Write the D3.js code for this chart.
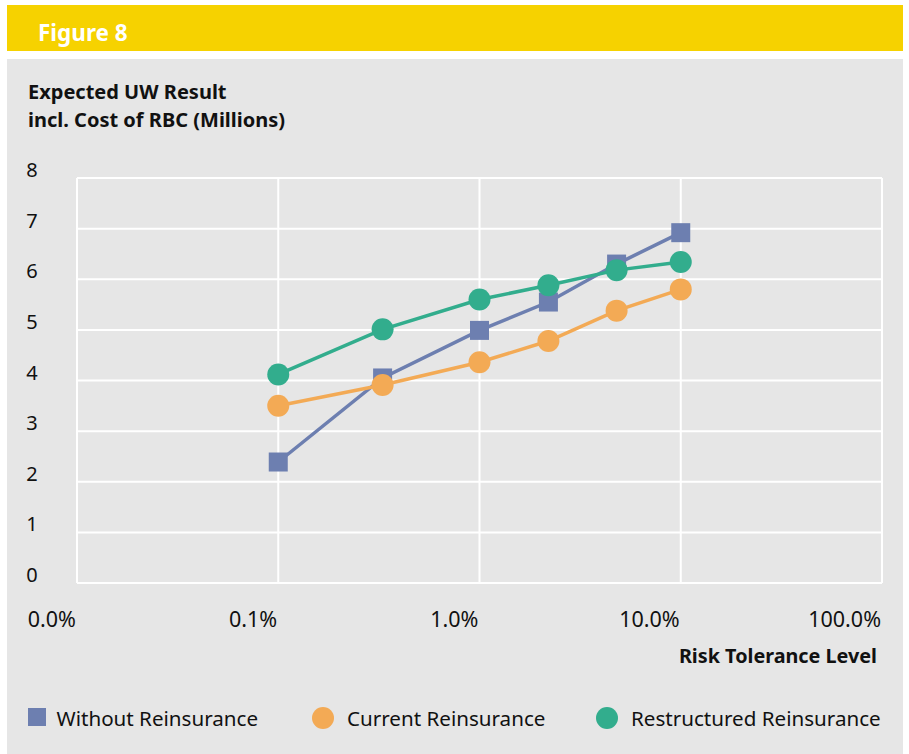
<!DOCTYPE html>
<html><head><meta charset="utf-8">
<script src="https://cdn.jsdelivr.net/npm/d3@7/dist/d3.min.js"></script>
<style>body{margin:0;background:#fff}svg{display:block}</style>
</head><body><svg id="c" width="909" height="754"></svg>
<script>
// ---- data ----
const xTickValues = [0.0001, 0.001, 0.01, 0.1, 1];
const xTickLabels = ["0.0%", "0.1%", "1.0%", "10.0%", "100.0%"];
const yTickValues = [0, 1, 2, 3, 4, 5, 6, 7, 8];
const riskLevels = [0.001, 0.0033, 0.01, 0.022, 0.048, 0.10];
const withoutReinsurance = [2.39, 4.05, 4.99, 5.55, 6.30, 6.92];
const currentReinsurance = [3.50, 3.91, 4.36, 4.78, 5.38, 5.80];
const restructuredReinsurance = [4.12, 5.01, 5.60, 5.88, 6.18, 6.34];
const seriesNames = ["Without Reinsurance", "Current Reinsurance", "Restructured Reinsurance"];
const yTitleLines = ["Expected UW Result", "incl. Cost of RBC (Millions)"];

const series = [
  {name: seriesNames[0], values: withoutReinsurance, color: "#6d7fb0", shape: "square"},
  {name: seriesNames[1], values: currentReinsurance, color: "#f3aa55", shape: "circle"},
  {name: seriesNames[2], values: restructuredReinsurance, color: "#32ad8d", shape: "circle"}
];

const FONT = "'Noto Sans', 'Open Sans', sans-serif";
const svg = d3.select("#c").style("font-family", FONT);

// background panels
svg.append("rect").attr("x", 7).attr("y", 5).attr("width", 896).attr("height", 46).attr("fill", "#f6d200");
svg.append("rect").attr("x", 7).attr("y", 59).attr("width", 896).attr("height", 695).attr("fill", "#e6e6e6");
svg.append("text").attr("x", 38).attr("y", 41).attr("fill", "#fff")
  .attr("font-weight", "bold").attr("font-size", 22.5).text("Figure 8");

// y axis title
svg.append("g").selectAll("text").data(yTitleLines).join("text")
  .attr("font-weight", "bold").attr("font-size", 20).attr("fill", "#111")
  .attr("x", 28).attr("y", (d, i) => 99 + i * 27.6).text(d => d);

const x = d3.scaleLog().domain([0.0001, 1]).range([77, 882]);
const y = d3.scaleLinear().domain([0, 8]).range([583, 178]);

// gridlines
const grid = svg.append("g");
grid.selectAll("line.h").data(yTickValues).join("line")
  .attr("class", "h")
  .attr("x1", x(0.0001)).attr("x2", x(1))
  .attr("y1", d => y(d)).attr("y2", d => y(d))
  .attr("stroke", "#fff").attr("stroke-width", 2);
grid.selectAll("line.v").data(xTickValues).join("line")
  .attr("class", "v")
  .attr("x1", d => x(d)).attr("x2", d => x(d))
  .attr("y1", y(8)).attr("y2", y(0))
  .attr("stroke", "#fff").attr("stroke-width", 2);

// y tick labels
svg.append("g").selectAll("text").data(yTickValues).join("text")
  .attr("x", 32).attr("y", d => y(d) - 1).attr("text-anchor", "middle")
  .attr("font-size", 20).attr("fill", "#111").text(d => d);

// x tick labels
svg.append("g").selectAll("text").data(xTickValues).join("text")
  .attr("x", d => x(d) - 1).attr("y", 627).attr("text-anchor", "end")
  .attr("font-size", 21.5).attr("fill", "#111").text((d, i) => xTickLabels[i]);

svg.append("text").attr("x", 877).attr("y", 663).attr("text-anchor", "end")
  .attr("font-weight", "bold").attr("font-size", 19.8).attr("fill", "#111").text("Risk Tolerance Level");

// series
const line = d3.line().x(d => x(d[0])).y(d => y(d[1]));
series.forEach(s => {
  const pts = riskLevels.map((r, i) => [r, s.values[i]]);
  const g = svg.append("g");
  g.append("path").datum(pts).attr("d", line).attr("fill", "none")
    .attr("stroke", s.color).attr("stroke-width", 3.5);
  if (s.shape === "square") {
    g.selectAll("rect").data(pts).join("rect")
      .attr("x", d => x(d[0]) - 9.5).attr("y", d => y(d[1]) - 9.5)
      .attr("width", 19).attr("height", 19).attr("fill", s.color);
  } else {
    g.selectAll("circle").data(pts).join("circle")
      .attr("cx", d => x(d[0])).attr("cy", d => y(d[1])).attr("r", 11)
      .attr("fill", s.color);
  }
});

// legend
const legendX = [28, 312, 596];
const lg = svg.append("g");
series.forEach((s, i) => {
  const lx = legendX[i];
  if (s.shape === "square") {
    lg.append("rect").attr("x", lx).attr("y", 708).attr("width", 18).attr("height", 18).attr("fill", s.color);
  } else {
    lg.append("circle").attr("cx", lx + 11).attr("cy", 718).attr("r", 11).attr("fill", s.color);
  }
  lg.append("text").attr("x", lx + (s.shape === "square" ? 28.5 : 35)).attr("y", 725.5)
    .attr("font-size", 20.6).attr("fill", "#111").text(s.name);
});
</script></body></html>
